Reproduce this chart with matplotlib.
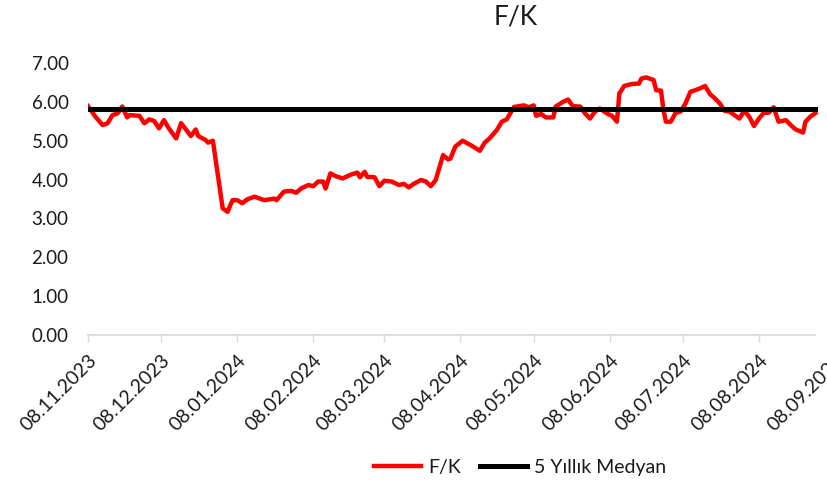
import pandas as pd
import matplotlib.pyplot as plt
import matplotlib.dates as mdates

# F/K oranı
dates = [
    "2023-11-08", "2023-11-11", "2023-11-14", "2023-11-16", "2023-11-18", "2023-11-20",
    "2023-11-22", "2023-11-24", "2023-11-25", "2023-11-29", "2023-12-01", "2023-12-03",
    "2023-12-05", "2023-12-07", "2023-12-09", "2023-12-11", "2023-12-14", "2023-12-16",
    "2023-12-18", "2023-12-20", "2023-12-22", "2023-12-23", "2023-12-26", "2023-12-27",
    "2023-12-29", "2024-01-02", "2024-01-04", "2024-01-06", "2024-01-08", "2024-01-10",
    "2024-01-12", "2024-01-15", "2024-01-19", "2024-01-23", "2024-01-24", "2024-01-27",
    "2024-01-30", "2024-02-01", "2024-02-03", "2024-02-06", "2024-02-08", "2024-02-10",
    "2024-02-12", "2024-02-13", "2024-02-15", "2024-02-17", "2024-02-20", "2024-02-23",
    "2024-02-26", "2024-02-27", "2024-02-29", "2024-03-01", "2024-03-04", "2024-03-06",
    "2024-03-08", "2024-03-11", "2024-03-14", "2024-03-16", "2024-03-18", "2024-03-20",
    "2024-03-23", "2024-03-25", "2024-03-27", "2024-03-29", "2024-04-01", "2024-04-03",
    "2024-04-04", "2024-04-06", "2024-04-09", "2024-04-13", "2024-04-16", "2024-04-18",
    "2024-04-20", "2024-04-23", "2024-04-25", "2024-04-27", "2024-04-30", "2024-05-04",
    "2024-05-06", "2024-05-08", "2024-05-09", "2024-05-11", "2024-05-13", "2024-05-16",
    "2024-05-17", "2024-05-20", "2024-05-22", "2024-05-24", "2024-05-27", "2024-05-29",
    "2024-05-31", "2024-06-02", "2024-06-04", "2024-06-07", "2024-06-09", "2024-06-11",
    "2024-06-12", "2024-06-14", "2024-06-17", "2024-06-20", "2024-06-21", "2024-06-23",
    "2024-06-26", "2024-06-27", "2024-06-29", "2024-06-30", "2024-07-01", "2024-07-03",
    "2024-07-05", "2024-07-07", "2024-07-09", "2024-07-11", "2024-07-13", "2024-07-15",
    "2024-07-17", "2024-07-19", "2024-07-21", "2024-07-23", "2024-07-25", "2024-07-27",
    "2024-07-29", "2024-07-31", "2024-08-02", "2024-08-04", "2024-08-06", "2024-08-08",
    "2024-08-10", "2024-08-12", "2024-08-14", "2024-08-16", "2024-08-19", "2024-08-21",
    "2024-08-23", "2024-08-26", "2024-08-27", "2024-08-29", "2024-08-31",
]
fk = [
    5.89, 5.62, 5.40, 5.45, 5.66, 5.70,
    5.88, 5.60, 5.66, 5.64, 5.45, 5.55,
    5.51, 5.32, 5.53, 5.32, 5.06, 5.45,
    5.29, 5.12, 5.29, 5.12, 5.02, 4.95,
    5.00, 3.26, 3.17, 3.47, 3.47, 3.39,
    3.49, 3.56, 3.47, 3.51, 3.47, 3.69,
    3.71, 3.66, 3.77, 3.86, 3.83, 3.95,
    3.95, 3.77, 4.16, 4.09, 4.03, 4.12,
    4.18, 4.06, 4.20, 4.07, 4.06, 3.83,
    3.97, 3.95, 3.86, 3.89, 3.80, 3.89,
    3.99, 3.95, 3.83, 3.99, 4.63, 4.52,
    4.54, 4.85, 5.00, 4.86, 4.74, 4.95,
    5.06, 5.28, 5.49, 5.55, 5.87, 5.91,
    5.86, 5.91, 5.64, 5.69, 5.60, 5.60,
    5.88, 6.00, 6.06, 5.89, 5.88, 5.70,
    5.57, 5.75, 5.83, 5.70, 5.64, 5.49,
    6.22, 6.41, 6.46, 6.47, 6.60, 6.63,
    6.56, 6.30, 6.29, 5.79, 5.49, 5.49,
    5.72, 5.75, 5.96, 6.26, 6.30, 6.35,
    6.41, 6.20, 6.09, 5.96, 5.77, 5.75,
    5.66, 5.57, 5.77, 5.62, 5.38, 5.57,
    5.72, 5.72, 5.86, 5.49, 5.53, 5.40,
    5.29, 5.21, 5.49, 5.62, 5.71,
]
median_5y = 5.82

tick_dates = ["2023-11-08", "2023-12-08", "2024-01-08", "2024-02-08", "2024-03-08",
              "2024-04-08", "2024-05-08", "2024-06-08", "2024-07-08", "2024-08-08",
              "2024-09-08"]

x = pd.to_datetime(dates)
ticks = pd.to_datetime(tick_dates)

plt.rcParams['font.family'] = ['Lato', 'DejaVu Sans']
text_color = '#1a1a1a'

fig = plt.figure(figsize=(8.28, 4.87), dpi=100)
# son tarih etiketi görüntünün dışına taşıyor (orijinaldeki gibi kırpılmış)
ax = fig.add_axes([0.1063, 0.3121, 0.902, 0.5585])

ax.plot(x, fk, color='#ff0000', lw=3.2, label='F/K', zorder=2,
        solid_joinstyle='round')
ax.plot([x[0], x[-1]], [median_5y, median_5y], color='black', lw=3.6,
        label='5 Yıllık Medyan', zorder=3)

ax.set_xlim(ticks[0], ticks[-1])
ax.set_ylim(0, 7)
ax.set_yticks(range(0, 8))
ax.yaxis.set_major_formatter(plt.FuncFormatter(lambda v, p: f'{v:.2f}'))

ax.set_xticks(ticks)
ax.xaxis.set_major_formatter(mdates.DateFormatter('%d.%m.%Y'))
for lbl in ax.get_xticklabels():
    lbl.set_rotation(45)
    lbl.set_ha('right')
    lbl.set_va('top')
    lbl.set_rotation_mode('anchor')

for s in ['top', 'right', 'left']:
    ax.spines[s].set_visible(False)
ax.spines['bottom'].set_color('#d9d9d9')
ax.spines['bottom'].set_linewidth(1.2)
ax.spines['bottom'].set_bounds(mdates.date2num(x[0]), mdates.date2num(x[-1]))

ax.tick_params(axis='y', length=0, pad=14, labelsize=13.5, labelcolor=text_color)
ax.tick_params(axis='x', length=5, width=1, color='#d9d9d9', direction='out',
               pad=7, labelsize=14, labelcolor=text_color)

fig.text(516 / 828, 1 - 17 / 487, 'F/K', ha='center', va='center',
         fontsize=19, color=text_color)

fig.legend(loc='center', bbox_to_anchor=(520 / 828, 1 - 467 / 487), ncol=2,
           frameon=False, fontsize=14, handlelength=2.4, columnspacing=1.0,
           handletextpad=0.35, labelcolor=text_color)

fig.savefig('out.png', dpi=100)
